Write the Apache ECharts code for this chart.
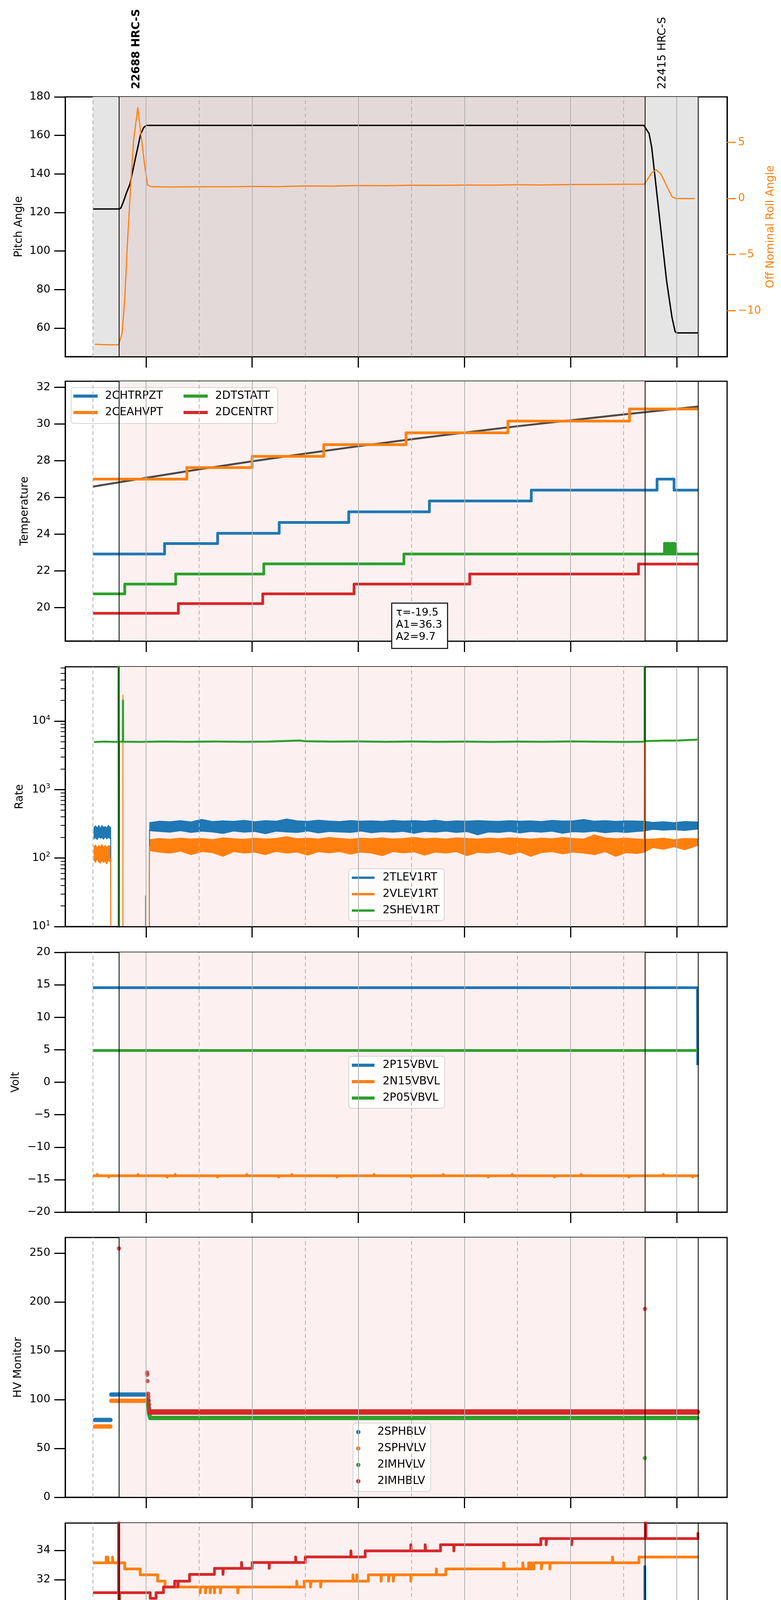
<!DOCTYPE html>
<html>
<head>
<meta charset="utf-8">
<title>HRC telemetry 2020-10-25</title>
<script src="https://cdn.jsdelivr.net/npm/echarts@6/dist/echarts.min.js"></script>
<style>
  html, body { margin: 0; padding: 0; background: #fff; }
  #chart { width: 2000px; height: 5400px; }
</style>
</head>
<body>
<div id="chart"></div>
<script>
const chart = echarts.init(document.getElementById("chart"));

const FONT = "DejaVu Sans";
const BLUE = "#1f77b4", ORANGE = "#ff7f0e", GREEN = "#2ca02c", RED = "#d62728";

// time axis, decimal hours of 2020-10-25
const X_MIN = 10.478, X_MAX = 22.95;
const EVEN_HOURS = [12, 14, 16, 18, 20, 22];
const ODD_HOURS = [11, 13, 15, 17, 19, 21];
const DATA_START = 11.0, OBS_START = 11.49, OBS_SWITCH = 21.40, OBS_END = 22.40;
const OBS_LABELS = [["22688 HRC-S", OBS_START, "bold"], ["22415 HRC-S", OBS_SWITCH, "normal"]];

const PANEL_TOPS = [248, 976, 1707, 2438, 3168, 3899, 4629];
const PANEL_H = 665;

// tick values
const pitchTicks = [60, 80, 100, 120, 140, 160, 180];
const rollTicks = [-10, -5, 0, 5];
const tempTicks = [20, 22, 24, 26, 28, 30, 32];
const rateTicks = [10, 100, 1000, 10000];
const rateMinorTicks = [20, 30, 40, 50, 60, 70, 80, 90, 200, 300, 400, 500, 600, 700, 800, 900,
    2000, 3000, 4000, 5000, 6000, 7000, 8000, 9000, 20000, 30000, 40000, 50000, 60000];
const voltTicks = [-20, -15, -10, -5, 0, 5, 10, 15, 20];
const hvTicks = [0, 50, 100, 150, 200, 250];
const detTicks = [20, 22, 24, 26, 28, 30, 32, 34];
const feaTicks = [20, 21, 22, 23, 24, 25, 26, 27, 28];

// panel 1: pitch and roll
const pitchAngle = [[11.0, 121.8], [11.5, 121.8], [11.53, 122.5], [11.58, 126], [11.63, 130], [11.7, 134.9],
    [11.8, 148], [11.9, 160.7], [11.96, 164.2], [12.01, 165.2], [21.38, 165.2], [21.41, 164], [21.48, 161],
    [21.53, 153.6], [21.62, 131.4], [21.72, 106.6], [21.81, 84.4], [21.91, 65.8], [21.97, 58.2], [22.0, 57.5], [22.4, 57.5]];
const rollAngle = [[11.04, -13.0], [11.3, -13.05], [11.46, -13.05], [11.49, -12.98], [11.55, -12.0], [11.6, -9.0],
    [11.65, -4.0], [11.71, 0.95], [11.765, 5.1], [11.846, 8.1], [11.97, 3.15], [12.03, 1.2], [12.1, 1.05],
    [12.5, 1.02], [13.0, 1.05], [13.5, 1.04], [14.0, 1.08], [14.5, 1.06], [15.0, 1.12], [15.5, 1.1], [16.0, 1.15],
    [16.5, 1.14], [17.0, 1.18], [17.5, 1.17], [18.0, 1.2], [18.5, 1.19], [19.0, 1.22], [19.5, 1.21], [20.0, 1.24],
    [20.5, 1.25], [21.0, 1.27], [21.39, 1.28], [21.43, 1.55], [21.53, 2.3], [21.61, 2.57], [21.7, 2.19],
    [21.81, 1.13], [21.91, 0.17], [21.98, 0.0], [22.34, 0.0]];

// panel 2: temperatures (step ends)
const tempFit = [[11, 26.59], [12, 27.07], [13, 27.53], [14, 27.97], [15, 28.39], [16, 28.79], [17, 29.17],
    [18, 29.53], [19, 29.88], [20, 30.2], [21, 30.52], [22, 30.83], [22.4, 30.95]];
const tempChtrpzt = [[11.0, 22.92], [12.35, 23.49], [13.35, 24.05], [14.51, 24.64], [15.82, 25.22], [17.34, 25.81],
    [19.26, 26.4], [21.63, 27.0], [21.95, 26.4], [22.4, 26.4]];
const tempCeahvpt = [[11.0, 27.0], [12.77, 27.63], [14.0, 28.24], [15.35, 28.88], [16.9, 29.52], [18.82, 30.16],
    [21.11, 30.82], [22.4, 30.82]];
const tempDtstatt = [[11.0, 20.75], [11.6, 21.28], [12.56, 21.83], [14.22, 22.38], [16.86, 22.92], [22.4, 22.92]];
const tempDtstattSpikes = [[21.77, 23.5], [21.79, 23.5], [21.8, 23.45], [21.82, 23.5], [21.84, 23.5], [21.86, 23.5],
    [21.88, 23.45], [21.9, 23.5], [21.92, 23.5], [21.94, 23.5], [21.96, 23.5], [21.98, 23.45]];
const tempDcentrt = [[11.0, 19.69], [12.61, 20.22], [14.2, 20.75], [15.92, 21.28], [18.1, 21.83], [21.28, 22.37], [22.4, 22.37]];
const TAU_TIME = 17.16;
const TAU_TEXT = ["\u03c4=-19.5", "A1=36.3", "A2=9.7"];

// panel 3: rates, bands are [t, low, high]
const rateTlevEarly = [[11.02, 190, 282], [11.05, 200, 296], [11.08, 186, 276], [11.11, 204, 300], [11.14, 194, 272],
    [11.17, 200, 298], [11.2, 188, 280], [11.23, 205, 290], [11.26, 190, 274], [11.29, 200, 300], [11.32, 194, 286], [11.335, 190, 280]];
const rateTlevMain = [[12.07, 250, 330], [12.25, 244, 346], [12.45, 238, 340], [12.65, 250, 352], [12.85, 236, 338],
    [13.05, 246, 368], [13.25, 240, 342], [13.45, 228, 350], [13.65, 248, 344], [13.85, 238, 356], [14.05, 244, 340],
    [14.25, 226, 352], [14.45, 246, 346], [14.65, 240, 372], [14.85, 236, 350], [15.05, 248, 344], [15.25, 232, 358],
    [15.45, 244, 348], [15.65, 240, 342], [15.85, 236, 354], [16.05, 247, 346], [16.25, 234, 350], [16.45, 242, 344],
    [16.65, 238, 356], [16.85, 245, 348], [17.05, 230, 352], [17.25, 244, 346], [17.45, 238, 358], [17.65, 246, 342],
    [17.85, 236, 350], [18.05, 243, 346], [18.25, 218, 354], [18.45, 240, 348], [18.65, 236, 344], [18.85, 245, 352],
    [19.05, 232, 346], [19.25, 244, 350], [19.45, 238, 342], [19.65, 246, 356], [19.85, 230, 348], [20.05, 242, 350],
    [20.25, 238, 366], [20.45, 246, 346], [20.65, 234, 352], [20.85, 242, 344], [21.05, 236, 350], [21.25, 244, 348],
    [21.39, 248, 345], [21.55, 262, 332], [21.75, 255, 340], [21.95, 260, 330], [22.15, 252, 342], [22.39, 265, 338]];
const rateVlevEarly = [[11.02, 92, 148], [11.05, 86, 156], [11.08, 98, 140], [11.11, 88, 152], [11.14, 84, 146],
    [11.17, 94, 158], [11.2, 86, 142], [11.23, 90, 154], [11.26, 82, 144], [11.29, 94, 152], [11.32, 88, 150], [11.335, 86, 146]];
const rateVlevMain = [[12.07, 128, 186], [12.25, 122, 194], [12.45, 118, 188], [12.65, 126, 196], [12.85, 112, 190],
    [13.05, 124, 194], [13.25, 120, 186], [13.45, 106, 198], [13.65, 124, 192], [13.85, 118, 188], [14.05, 122, 196],
    [14.25, 112, 190], [14.45, 125, 194], [14.65, 118, 206], [14.85, 122, 192], [15.05, 110, 196], [15.25, 124, 190],
    [15.45, 119, 200], [15.65, 124, 194], [15.85, 114, 188], [16.05, 122, 196], [16.25, 118, 192], [16.45, 108, 198],
    [16.65, 124, 190], [16.85, 119, 194], [17.05, 123, 200], [17.25, 110, 192], [17.45, 122, 196], [17.65, 118, 190],
    [17.85, 124, 198], [18.05, 108, 194], [18.25, 121, 190], [18.45, 118, 196], [18.65, 124, 192], [18.85, 112, 198],
    [19.05, 122, 194], [19.25, 106, 190], [19.45, 120, 196], [19.65, 124, 192], [19.85, 115, 200], [20.05, 122, 194],
    [20.25, 118, 190], [20.45, 112, 218], [20.65, 124, 198], [20.85, 106, 192], [21.05, 120, 196], [21.25, 116, 190],
    [21.39, 122, 188], [21.55, 142, 190], [21.75, 134, 196], [21.95, 146, 186], [22.15, 132, 194], [22.39, 152, 192]];
const rateTlevTrace = [[11.335, 200], [11.336, 130], [11.34, 1], [11.992, 1], [11.993, 28], [11.995, 1], [12.061, 1],
    [12.062, 50], [12.066, 50], [12.068, 270]];
const rateVlevTrace = [[11.335, 100], [11.34, 1], [11.484, 1], [11.485, 5000], [11.486, 1], [11.564, 1], [11.565, 24000],
    [11.567, 1], [12.063, 1], [12.064, 40], [12.068, 150]];
const rateVlevSpike = [[21.386, 160], [21.39, 4770], [21.394, 165]];
const rateShev = [[11.02, 4950], [11.2, 5020], [11.35, 4980], [11.48, 5000], [11.482, 1e6], [11.485, 1], [11.488, 5000],
    [11.565, 5000], [11.567, 20000], [11.57, 5000], [11.9, 4960], [12.3, 5040], [12.8, 4980], [13.3, 5030], [13.8, 4990],
    [14.3, 5020], [14.9, 5200], [15.0, 5080], [15.5, 5020], [16.0, 5050], [16.5, 4990], [17.0, 5030], [17.5, 4980],
    [18.0, 5010], [18.5, 4970], [19.0, 5020], [19.5, 4990], [20.0, 5050], [20.5, 5000], [21.0, 4960], [21.395, 5000],
    [21.397, 1e6], [21.4, 5100], [21.6, 5150], [21.8, 5200], [22.0, 5180], [22.2, 5280], [22.39, 5350]];

// panel 4: volts
const voltP15 = [[11.0, 14.56], [22.39, 14.56], [22.395, 2.63]];
const voltN15 = [[11.0, -14.4], [22.4, -14.4]];
const voltN15Spikes = [[11.08, -14.2], [11.3, -14.6], [11.85, -14.2], [12.4, -14.6], [12.55, -14.2], [13.35, -14.6],
    [13.9, -14.2], [14.5, -14.6], [14.75, -14.2], [15.6, -14.6], [16.3, -14.2], [17.0, -14.6], [17.6, -14.2],
    [18.45, -14.6], [18.9, -14.2], [19.7, -14.6], [20.2, -14.2], [21.1, -14.6], [21.75, -14.2], [22.3, -14.6]];
const voltP05 = [[11.0, 4.89], [22.4, 4.89]];

// panel 5: HV monitor (dense dots drawn as thick segments)
const hvSphblv = [[[11.04, 79.2], [11.33, 79.2]], [[11.345, 105.2], [12.0, 105.2]]];
const hvSphvlv = [[[11.04, 72.5], [11.33, 72.5]], [[11.345, 98.8], [12.0, 98.8]]];
const hvImhvlv = [[[12.04, 100], [12.05, 92], [12.06, 85], [12.08, 81.2], [22.39, 81.2]]];
const hvImhvlvDots = [[21.4, 40.2]];
const hvImhblv = [[[12.075, 87.3], [22.39, 87.3]]];
const hvImhblvDots = [[11.49, 254.8], [12.02, 127.7], [12.022, 125.5], [12.027, 119], [12.04, 106], [12.045, 103],
    [12.05, 99], [12.055, 95], [12.06, 91], [21.4, 192.9]];

// panel 6: detector temperatures (step ends + spikes)
const detSpinatm = [[11.0, 18.95], [11.6, 19.63], [14.79, 20.31], [18.11, 21.0], [22.4, 21.0]];
const detSpinatmSpikes = [[21.4, 32.9]];
const detSphvatm = [[11.0, 33.15], [11.6, 32.73], [11.89, 32.33], [12.22, 31.9], [12.36, 31.5], [14.98, 31.9],
    [16.19, 32.33], [17.65, 32.73], [19.31, 33.15], [21.29, 33.54], [22.4, 33.54]];
const detSphvatmSpikes = [[11.25, 33.54], [11.28, 33.54], [11.37, 33.54], [13.02, 31.1], [13.12, 31.1], [13.21, 31.1],
    [13.29, 31.1], [13.4, 31.1], [13.73, 31.1], [14.84, 31.9], [15.1, 31.5], [15.29, 31.5], [15.9, 32.33], [15.97, 32.33],
    [16.43, 31.9], [16.57, 31.9], [16.66, 31.9], [16.99, 31.9], [17.47, 32.73], [18.74, 33.15], [19.1, 33.15],
    [19.21, 33.15], [19.26, 33.15], [19.45, 32.73], [19.61, 32.73], [20.79, 33.54]];
const detIminatm = [[11.0, 20.31], [11.9, 21.0], [13.82, 21.7], [17.06, 22.41], [22.4, 22.41]];
const detIminatmSpikes = [[11.505, 31.07], [11.515, 10], [21.41, 10]];
const detImhvatm = [[11.0, 31.11], [12.08, 30.73], [12.19, 31.11], [12.33, 31.5], [12.54, 31.9], [12.82, 32.36],
    [13.29, 32.77], [14.0, 33.17], [15.0, 33.55], [16.13, 33.96], [17.55, 34.38], [19.44, 34.8], [21.42, 35.23], [22.4, 35.23]];
const detImhvatmSpikes = [[11.483, 60], [11.49, 10], [12.6, 31.5], [13.45, 32.36], [13.8, 33.17], [14.32, 32.77],
    [14.82, 33.55], [15.86, 33.96], [16.99, 34.38], [17.26, 34.38], [17.8, 33.96], [19.54, 34.38], [20.02, 34.38], [21.41, 60]];

// panel 7: FEA temperatures (step ends + spikes)
const feaHtrmzt = [[11.0, 24.62], [11.49, 25.2], [13.92, 25.79], [20.04, 26.4], [21.79, 25.79], [22.4, 25.79]];
const feaHtrmztSpikes = [[20.06, 25.79], [20.075, 25.79], [20.09, 25.79], [20.105, 25.79], [20.12, 25.79],
    [20.135, 25.79], [20.15, 25.79], [20.165, 25.79], [20.18, 25.79], [20.2, 25.79], [20.22, 25.79], [20.25, 25.79], [20.32, 25.79]];
const feaRadpyt = [[11.0, 21.27], [11.18, 21.82], [11.72, 21.27], [11.87, 20.73], [13.51, 21.27], [19.92, 21.82],
    [21.51, 21.27], [21.86, 20.73], [22.17, 20.2], [22.4, 20.2]];
const feaRadpytSpikes = [[19.94, 21.27], [19.96, 21.27], [19.98, 21.27], [20.0, 21.27], [20.02, 21.27], [20.05, 21.27],
    [20.08, 21.27], [20.11, 21.27]];
const feaEpratm = [[11.0, 26.18], [11.92, 26.97], [22.4, 26.97]];
const feaEpratmSpikes = [[11.46, 24.3], [11.935, 26.18], [11.95, 26.18], [11.965, 26.18], [11.98, 26.18], [11.995, 26.18],
    [12.01, 26.18], [12.025, 26.18], [12.04, 26.18], [12.055, 26.18], [12.07, 26.18], [12.085, 26.18], [12.1, 26.18],
    [12.115, 26.18], [12.28, 26.18], [14.32, 26.18], [21.405, 29.5],
    [21.52, 27.8], [21.535, 27.8], [21.55, 27.8], [21.565, 27.8]];
const feaE00atm = [[11.0, 23.95], [11.16, 24.28], [11.6, 24.62], [14.4, 24.97], [18.93, 25.3], [21.84, 24.97],
    [22.33, 24.67], [22.4, 24.67]];
const feaE00atmSpikes = [[11.13, 22.95], [11.3, 24.95], [11.48, 30], [11.486, 19], [11.98, 24.25], [12.08, 24.25],
    [12.23, 24.25], [12.27, 23.95], [12.3, 24.95], [12.36, 22.62], [12.81, 24.95], [13.52, 26.01], [13.54, 23.58],
    [13.59, 23.95], [13.62, 24.25], [13.89, 24.95], [13.92, 25.65], [13.97, 23.95], [14.25, 25.3], [14.42, 24.62],
    [14.44, 24.62], [14.47, 24.62], [14.5, 24.62], [14.53, 24.62], [14.56, 24.62], [14.63, 26.0], [14.7, 24.6],
    [14.88, 25.3], [15.05, 24.6], [15.63, 26.0], [15.69, 24.25], [15.74, 25.3], [15.83, 25.3], [16.37, 26.0],
    [16.78, 23.95], [16.92, 25.65], [16.93, 24.6], [17.01, 25.65], [17.16, 25.3], [17.24, 26.0], [17.29, 25.3],
    [17.41, 25.65], [17.48, 24.25], [17.67, 26.68], [17.8, 26.0], [17.81, 24.6], [17.92, 25.3], [17.98, 25.3],
    [18.04, 25.3], [18.13, 26.0], [18.35, 23.95], [18.46, 25.65], [18.57, 25.3], [18.74, 25.3], [18.82, 24.25],
    [18.85, 25.65], [18.96, 24.97], [18.98, 25.65], [19.0, 24.97], [19.04, 24.97], [19.08, 24.97], [19.12, 24.97],
    [19.16, 24.97], [19.2, 24.97], [19.24, 24.97], [19.28, 24.97], [19.32, 24.97], [19.36, 24.97], [19.39, 24.97],
    [19.61, 24.95], [19.69, 24.95], [19.75, 26.0], [19.92, 25.65], [19.93, 24.6], [20.06, 24.6], [20.11, 24.6],
    [20.21, 24.6], [20.3, 24.95], [20.74, 26.0], [20.79, 25.65], [20.84, 24.95], [21.07, 24.97], [21.4, 30], [21.406, 19]];

// ---------------------------------------------------------------------------

function withSpikes(steps, spikes) {
    // each spike jumps to its value and back to the step level in force
    const pts = steps.map(p => [p[0], p[1]]);
    spikes.forEach(([t, v]) => {
        let base = steps[0][1];
        steps.forEach(([st, sv]) => { if (st <= t) base = sv; });
        pts.push([t, v], [t + 0.01, base]);
    });
    return pts.sort((a, b) => a[0] - b[0]);
}

function line(name, data, color, width, p, yi, extra) {
    return Object.assign({
        type: "line", name, data, xAxisIndex: 2 * p, yAxisIndex: yi,
        showSymbol: false, symbol: "none", silent: true, z: 2, animation: false,
        lineStyle: { color, width, cap: "butt", join: "round" },
        itemStyle: { color },
        emphasis: { disabled: true }
    }, extra || {});
}

// noisy rate drawn as a filled band between its low and high envelope
function band(name, rows, color, p, yi) {
    return {
        type: "custom", name, xAxisIndex: 2 * p, yAxisIndex: yi, silent: true, z: 2, animation: false,
        data: [[rows[0][0], rows[0][1]]],
        itemStyle: { color },
        renderItem: (params, api) => {
            const upper = rows.map(r => api.coord([r[0], r[2]]));
            const lower = rows.slice().reverse().map(r => api.coord([r[0], r[1]]));
            return {
                type: "polygon",
                shape: { points: upper.concat(lower) },
                style: { fill: color, stroke: color, lineWidth: 2, lineJoin: "round" }
            };
        }
    };
}

function dots(name, data, color, p, yi) {
    return {
        type: "scatter", name, data, xAxisIndex: 2 * p, yAxisIndex: yi, silent: true, z: 3,
        symbol: "circle", symbolSize: 11, itemStyle: { color }, animation: false
    };
}

const Y_INDEX = [0, 2, 3, 5, 6, 7, 8];

function backdrop(p) {
    const shade = p === 0
        ? [[{ xAxis: DATA_START, itemStyle: { color: "#e5e5e5" } }, { xAxis: OBS_START }],
           [{ xAxis: OBS_START, itemStyle: { color: "#e4d9d9" } }, { xAxis: OBS_SWITCH }],
           [{ xAxis: OBS_SWITCH, itemStyle: { color: "#e5e5e5" } }, { xAxis: OBS_END }]]
        : [[{ xAxis: OBS_START, itemStyle: { color: "#fdf0f0" } }, { xAxis: OBS_SWITCH }]];
    const marks = [];
    ODD_HOURS.forEach(h => marks.push({ xAxis: h, lineStyle: { color: "#b0b0b0", width: 2, type: [10, 7] } }));
    EVEN_HOURS.forEach(h => marks.push({ xAxis: h, lineStyle: { color: "#b0b0b0", width: 2, type: "solid" } }));
    [OBS_START, OBS_SWITCH, OBS_END].forEach(h => marks.push({ xAxis: h, lineStyle: { color: "#000", width: 2, type: "solid" } }));
    return {
        type: "line", data: [], xAxisIndex: 2 * p, yAxisIndex: Y_INDEX[p], silent: true, z: 1, animation: false,
        markArea: { silent: true, data: shade },
        markLine: { silent: true, symbol: ["none", "none"], label: { show: false }, data: marks, animation: false }
    };
}

const fmtTick = v => (v < 0 ? "\u2212" + Math.abs(v) : String(v));

function yAxisOf(grid, name, nameGap, min, max, ticks) {
    return {
        type: "value", gridIndex: grid, position: "left", min, max, z: 4,
        name, nameGap, nameLocation: "middle",
        nameTextStyle: { color: "#000", fontSize: 28, fontFamily: FONT },
        axisLine: { show: true, onZero: false, lineStyle: { color: "#000", width: 3 } },
        axisTick: { show: true, length: 28, customValues: ticks, lineStyle: { color: "#000", width: 3 } },
        axisLabel: { customValues: ticks, color: "#000", fontSize: 28, fontFamily: FONT, margin: 38, formatter: fmtTick },
        splitLine: { show: false }
    };
}

const xAxes = [];
for (let p = 0; p < 7; p++) {
    const last = p === 6;
    xAxes.push({
        type: "value", gridIndex: p, min: X_MIN, max: X_MAX, position: "bottom", z: 4,
        axisLine: { show: true, onZero: false, lineStyle: { color: "#000", width: 3 } },
        axisTick: { show: true, customValues: EVEN_HOURS, length: 28, lineStyle: { color: "#000", width: 3 } },
        axisLabel: { show: last, customValues: EVEN_HOURS, formatter: v => v + "h", fontSize: 27, margin: 36, color: "#000", fontFamily: FONT },
        splitLine: { show: false },
        name: last ? "2020-10-25 (299)" : "", nameLocation: "middle", nameGap: 70,
        nameTextStyle: { color: "#000", fontSize: 32, fontFamily: FONT }
    });
    xAxes.push({
        type: "value", gridIndex: p, min: X_MIN, max: X_MAX, position: "bottom", z: 4,
        axisLine: { show: false, onZero: false },
        axisTick: { show: true, inside: true, customValues: ODD_HOURS, length: 8, lineStyle: { color: "#000", width: 2 } },
        axisLabel: { show: last, customValues: ODD_HOURS, formatter: v => v + "h", fontSize: 19, margin: 6, color: "#000", fontFamily: FONT },
        splitLine: { show: false }
    });
}

const rollAxis = {
    type: "value", gridIndex: 0, position: "right", min: -14.1, max: 9.06, z: 4,
    name: "Off Nominal Roll Angle", nameLocation: "middle", nameGap: 85, nameRotate: 90,
    nameTextStyle: { color: ORANGE, fontSize: 28, fontFamily: FONT },
    axisLine: { show: true, onZero: false, lineStyle: { color: "#000", width: 3 } },
    axisTick: { show: true, length: 22, customValues: rollTicks, lineStyle: { color: ORANGE, width: 3 } },
    axisLabel: { customValues: rollTicks, color: ORANGE, fontSize: 28, fontFamily: FONT, margin: 28, formatter: fmtTick },
    splitLine: { show: false }
};

const rateAxis = {
    type: "log", logBase: 10, gridIndex: 2, position: "left", min: 10, max: 62000, z: 4,
    name: "Rate", nameGap: 102, nameLocation: "middle",
    nameTextStyle: { color: "#000", fontSize: 28, fontFamily: FONT },
    axisLine: { show: true, onZero: false, lineStyle: { color: "#000", width: 3 } },
    axisTick: { show: true, length: 28, customValues: rateTicks, lineStyle: { color: "#000", width: 3 } },
    axisLabel: {
        customValues: rateTicks, color: "#000", fontSize: 28, fontFamily: FONT, margin: 38,
        formatter: v => "10{e|" + Math.round(Math.log10(v)) + "}",
        rich: { e: { fontSize: 18, fontFamily: FONT, color: "#000", padding: [0, 0, 16, 0] } }
    },
    splitLine: { show: false }
};
const rateMinorAxis = {
    type: "log", logBase: 10, gridIndex: 2, position: "left", min: 10, max: 62000, z: 4,
    axisLine: { show: false, onZero: false },
    axisTick: { show: true, length: 12, customValues: rateMinorTicks, lineStyle: { color: "#000", width: 2 } },
    axisLabel: { show: false },
    splitLine: { show: false }
};

const yAxes = [
    yAxisOf(0, "Pitch Angle", 104, 45.2, 180, pitchTicks),
    rollAxis,
    yAxisOf(1, "Temperature", 89, 18.18, 32.33, tempTicks),
    rateAxis,
    rateMinorAxis,
    yAxisOf(3, "Volt", 112, -20, 20, voltTicks),
    yAxisOf(4, "HV Monitor", 106, 0, 266, hvTicks),
    yAxisOf(5, "Detector Temp", 89, 18.15, 35.86, detTicks),
    yAxisOf(6, "FEA Temp", 86, 19.78, 28.46, feaTicks)
];

const STEP = { step: "end" };

function roundLine(name, seg, color, width, p, yi) {
    const s = line(name, seg, color, width, p, yi);
    s.lineStyle.cap = "round";
    return s;
}

const series = [];
for (let p = 0; p < 7; p++) series.push(backdrop(p));

// panel 1
series.push(line("Pitch", pitchAngle, "#000", 3.5, 0, 0));
series.push(line("Roll", rollAngle, ORANGE, 3, 0, 1));

// panel 2
series.push(line("fit", tempFit, "rgba(0,0,0,0.7)", 5, 1, 2));
series.push(line("2CHTRPZT", tempChtrpzt, BLUE, 7, 1, 2, STEP));
series.push(line("2CEAHVPT", tempCeahvpt, ORANGE, 7, 1, 2, STEP));
series.push(line("2DTSTATT", withSpikes(tempDtstatt, tempDtstattSpikes), GREEN, 7, 1, 2, STEP));
series.push(line("2DCENTRT", tempDcentrt, RED, 7, 1, 2, STEP));

// panel 3
series.push(band("2TLEV1RT", rateTlevEarly, BLUE, 2, 3));
series.push(band("2TLEV1RT", rateTlevMain, BLUE, 2, 3));
series.push(line("2TLEV1RT", rateTlevTrace, BLUE, 2.5, 2, 3));
series.push(band("2VLEV1RT", rateVlevEarly, ORANGE, 2, 3));
series.push(band("2VLEV1RT", rateVlevMain, ORANGE, 2, 3));
series.push(line("2VLEV1RT", rateVlevTrace, ORANGE, 2.5, 2, 3));
series.push(line("2VLEV1RT", rateVlevSpike, ORANGE, 2.5, 2, 3));
series.push(line("2SHEV1RT", rateShev, GREEN, 5, 2, 3));

// panel 4
series.push(line("2P15VBVL", voltP15, BLUE, 7, 3, 5));
series.push(line("2N15VBVL", withSpikes(voltN15, voltN15Spikes), ORANGE, 7, 3, 5, STEP));
series.push(line("2P05VBVL", voltP05, GREEN, 7, 3, 5));

// panel 5
hvSphblv.forEach(seg => series.push(roundLine("2SPHBLV", seg, BLUE, 11, 4, 6)));
hvSphvlv.forEach(seg => series.push(roundLine("2SPHVLV", seg, ORANGE, 11, 4, 6)));
hvImhvlv.forEach(seg => series.push(roundLine("2IMHVLV", seg, GREEN, 11, 4, 6)));
series.push(dots("2IMHVLV", hvImhvlvDots, GREEN, 4, 6));
hvImhblv.forEach(seg => series.push(roundLine("2IMHBLV", seg, RED, 14, 4, 6)));
series.push(dots("2IMHBLV", hvImhblvDots, RED, 4, 6));

// panel 6
series.push(line("2SPINATM", withSpikes(detSpinatm, detSpinatmSpikes), BLUE, 7, 5, 7, STEP));
series.push(line("2SPHVATM", withSpikes(detSphvatm, detSphvatmSpikes), ORANGE, 7, 5, 7, STEP));
series.push(line("2IMINATM", withSpikes(detIminatm, detIminatmSpikes), GREEN, 7, 5, 7, STEP));
series.push(line("2IMHVATM", withSpikes(detImhvatm, detImhvatmSpikes), RED, 7, 5, 7, STEP));

// panel 7
series.push(line("2FHTRMZT", withSpikes(feaHtrmzt, feaHtrmztSpikes), BLUE, 7, 6, 8, STEP));
series.push(line("2FRADPYT", withSpikes(feaRadpyt, feaRadpytSpikes), ORANGE, 7, 6, 8, STEP));
series.push(line("2FEPRATM", withSpikes(feaEpratm, feaEpratmSpikes), GREEN, 7, 6, 8, STEP));
series.push(line("2FE00ATM", withSpikes(feaE00atm, feaE00atmSpikes), RED, 6, 6, 8, STEP));

const legendBase = {
    orient: "vertical", selectedMode: false, icon: "rect",
    itemHeight: 8, itemGap: 10,
    textStyle: { fontFamily: FONT, fontSize: 28, color: "#000", lineHeight: 32, padding: [0, 0, 0, 14] },
    backgroundColor: "rgba(255,255,255,0.8)", borderColor: "#d5d5d5", borderWidth: 2, borderRadius: 7
};
function legendAt(data, left, top, extra) {
    return Object.assign({}, legendBase, { data, left, top, padding: [7, 12, 10, 8], itemWidth: 58 }, extra || {});
}

const legends = [
    legendAt(["2CHTRPZT", "2CEAHVPT"], 182, 992, { itemWidth: 62, padding: [6, 0, 6, 6], backgroundColor: "transparent", borderWidth: 0 }),
    legendAt(["2DTSTATT", "2DCENTRT"], 464, 992, { itemWidth: 62, padding: [6, 0, 6, 6], backgroundColor: "transparent", borderWidth: 0 }),
    legendAt(["2TLEV1RT", "2VLEV1RT", "2SHEV1RT"], 893, 2224, { itemHeight: 6, textStyle: Object.assign({}, legendBase.textStyle, { padding: [0, 0, 0, 16] }) }),
    legendAt(["2P15VBVL", "2N15VBVL", "2P05VBVL"], 893, 2704, { textStyle: Object.assign({}, legendBase.textStyle, { padding: [0, 0, 0, 16] }) }),
    legendAt(["2SPHBLV", "2SPHVLV", "2IMHVLV", "2IMHBLV"], 904, 3643, { icon: "circle", itemWidth: 60, itemHeight: 11 }),
    legendAt(["2SPINATM", "2SPHVATM", "2IMINATM", "2IMHVATM"], 891, 4144, { itemWidth: 64, padding: [6, 12, 10, 6] }),
    legendAt(["2FHTRMZT", "2FRADPYT", "2FEPRATM", "2FE00ATM"], 1588, 4872, { itemWidth: 64, padding: [7, 12, 10, 7] })
];

const option = {
    animation: false,
    backgroundColor: "#fff",
    textStyle: { fontFamily: FONT },
    grid: PANEL_TOPS.map(top => ({
        left: 167, width: 1695, top, height: PANEL_H,
        show: true, borderColor: "#000", borderWidth: 3, backgroundColor: "transparent",
        containLabel: false, outerBoundsMode: "none"
    })),
    xAxis: xAxes,
    yAxis: yAxes,
    legend: legends,
    series
};

chart.setOption(option);

// annotations placed through the axes
const px = t => chart.convertToPixel({ xAxisIndex: 0 }, t);
const tauX = px(TAU_TIME);
const tempBottom = PANEL_TOPS[1] + PANEL_H;

chart.setOption({
    graphic: [
        ...OBS_LABELS.map(([txt, t, weight]) => ({
            type: "text", x: px(t) + 45, y: 228, rotation: Math.PI / 2, z: 10,
            style: { text: txt, fontSize: 28, fontWeight: weight, fontFamily: FONT, fill: "#000", align: "left", verticalAlign: "middle" }
        })),
        {
            type: "rect", z: 3, silent: true,
            shape: { x: 182, y: 992, width: 529, height: 92, r: 7 },
            style: { fill: "rgba(255,255,255,0.8)", stroke: "#d5d5d5", lineWidth: 2 }
        },
        {
            type: "rect", z: 10, silent: true,
            shape: { x: tauX - 72, y: tempBottom - 97, width: 143, height: 116 },
            style: { fill: "#fff", stroke: "#000", lineWidth: 2.5 }
        },
        {
            type: "text", z: 11, silent: true, x: tauX - 61, y: tempBottom - 88,
            style: { text: TAU_TEXT.join("\n"), fontSize: 27, lineHeight: 31, fontFamily: FONT, fill: "#000", align: "left", verticalAlign: "top" }
        }
    ]
});

window.addEventListener("resize", () => chart.resize());
</script>
</body>
</html>
